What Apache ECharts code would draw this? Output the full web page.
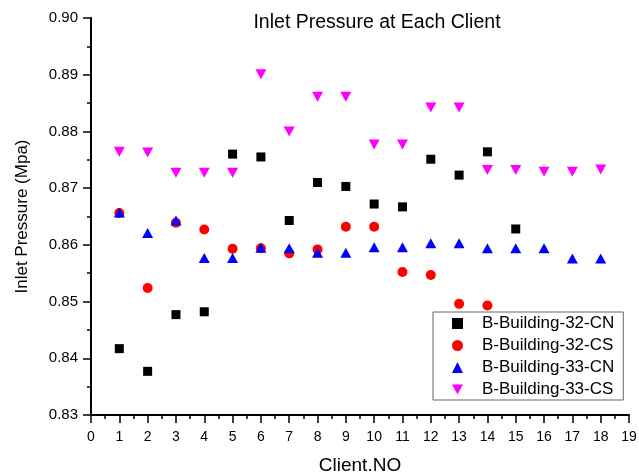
<!DOCTYPE html>
<html>
<head>
<meta charset="utf-8">
<script src="https://cdn.jsdelivr.net/npm/echarts@6/dist/echarts.min.js"></script>
<style>html,body{margin:0;padding:0;background:#fff}#c{width:639px;height:475px}</style>
</head>
<body>
<div id="c"></div>
<script>
const clients = [1,2,3,4,5,6,7,8,9,10,11,12,13,14,15,16,17,18];
const b32CN = [0.8417,0.8377,0.8477,0.8482,0.8760,0.8755,0.8643,0.8710,0.8703,0.8672,0.8667,0.8751,0.8723,0.8764,0.8628];
const b32CS = [0.8656,0.8524,0.8639,0.8627,0.8593,0.8594,0.8585,0.8592,0.8632,0.8632,0.8552,0.8547,0.8496,0.8493];
const b33CN = [0.8657,0.8621,0.8643,0.8577,0.8577,0.8595,0.8594,0.8586,0.8586,0.8596,0.8596,0.8603,0.8603,0.8594,0.8594,0.8594,0.8576,0.8576];
const b33CS = [0.8764,0.8763,0.8727,0.8727,0.8727,0.8901,0.8800,0.8861,0.8861,0.8777,0.8777,0.8842,0.8842,0.8732,0.8732,0.8729,0.8729,0.8733];
const seriesNames = ['B-Building-32-CN','B-Building-32-CS','B-Building-33-CN','B-Building-33-CS'];

const pair = arr => arr.map((v,i) => [clients[i], v]);
const downTri = 'path://M0,0 L10,0 L5,9 Z';
const font = 'Liberation Sans, Arial, sans-serif';

const chart = echarts.init(document.getElementById('c'), null, {renderer:'canvas'});
chart.setOption({
  animation: false,
  backgroundColor: '#fff',
  title: {
    text: 'Inlet Pressure at Each Client',
    left: 377, top: 13, textAlign: 'center', padding: 0,
    textStyle: {fontFamily: font, fontSize: 19.5, fontWeight: 'normal', color: '#000'}
  },
  grid: {left: 91, right: 10, top: 18, bottom: 60, containLabel: false, outerBoundsMode: 'none'},
  legend: {
    orient: 'vertical',
    left: 433, top: 312,
    padding: [3, 9, 2, 19],
    itemGap: 5,
    itemWidth: 11, itemHeight: 11,
    borderColor: '#666', borderWidth: 1,
    backgroundColor: '#fff',
    textStyle: {fontFamily: font, fontSize: 17, color: '#000', padding: [0,0,0,14]},
    data: [
      {name: seriesNames[0], icon: 'rect'},
      {name: seriesNames[1], icon: 'circle'},
      {name: seriesNames[2], icon: 'triangle'},
      {name: seriesNames[3], icon: downTri}
    ]
  },
  xAxis: {
    type: 'value', min: 0, max: 19, interval: 1,
    name: 'Client.NO', nameLocation: 'middle', nameGap: 41,
    nameTextStyle: {fontFamily: font, fontSize: 19, color: '#000'},
    axisLine: {lineStyle: {color: '#000', width: 2}},
    axisTick: {length: 8, lineStyle: {color: '#000', width: 1.5}},
    minorTick: {show: true, splitNumber: 2, length: 4, lineStyle: {color: '#000', width: 1.5}},
    splitLine: {show: false},
    axisLabel: {fontFamily: font, fontSize: 14, color: '#000', margin: 15}
  },
  yAxis: {
    type: 'value', min: 0.83, max: 0.90, interval: 0.01,
    name: 'Inlet Pressure (Mpa)', nameLocation: 'middle', nameGap: 60,
    nameTextStyle: {fontFamily: font, fontSize: 17, color: '#000'},
    axisLine: {show: true, lineStyle: {color: '#000', width: 2}},
    axisTick: {show: true, length: 8, lineStyle: {color: '#000', width: 1.5}},
    minorTick: {show: true, splitNumber: 2, length: 4, lineStyle: {color: '#000', width: 1.5}},
    splitLine: {show: false},
    axisLabel: {fontFamily: font, fontSize: 15, color: '#000', margin: 13, formatter: v => v.toFixed(2)}
  },
  series: [
    {name: seriesNames[0], type: 'scatter', symbol: 'rect', symbolSize: 9, itemStyle: {color: '#000', opacity: 1}, data: pair(b32CN)},
    {name: seriesNames[1], type: 'scatter', symbol: 'circle', symbolSize: 10, itemStyle: {color: '#ff0000', opacity: 1}, data: pair(b32CS)},
    {name: seriesNames[2], type: 'scatter', symbol: 'triangle', symbolSize: [11,10], itemStyle: {color: '#0000ff', opacity: 1}, data: pair(b33CN)},
    {name: seriesNames[3], type: 'scatter', symbol: downTri, symbolSize: [11,10], itemStyle: {color: '#ff00ff', opacity: 1}, data: pair(b33CS)}
  ]
});
</script>
</body>
</html>
